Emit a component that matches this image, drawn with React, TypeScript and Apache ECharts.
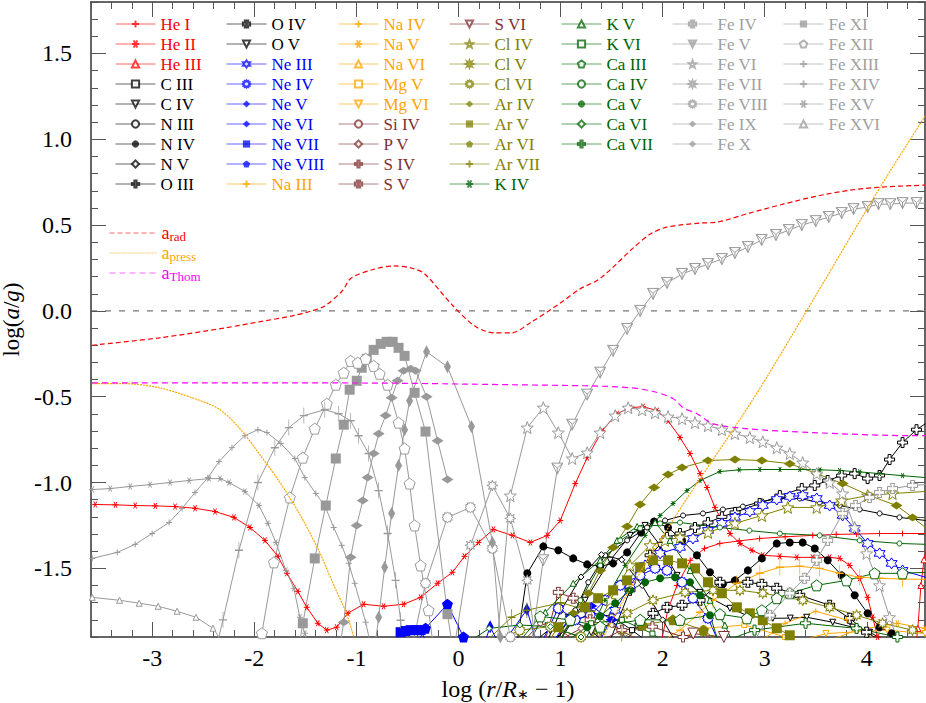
import React, { useEffect, useRef } from "react";
import * as echarts from "echarts";

// ---------- axes ----------
const XMIN = -3.6, XMAX = 4.57, YMIN = -1.9, YMAX = 1.8;
const X_MAJOR = [-3, -2, -1, 0, 1, 2, 3, 4];
const Y_MAJOR = [-1.5, -1.0, -0.5, 0, 0.5, 1.0, 1.5];

// ---------- accelerations ----------
const A_RAD = [[-3.59,-0.2],[-2.93,-0.157],[-2.29,-0.099],[-1.955,-0.064],[-1.63,-0.029],[-1.44,0.0],[-1.31,0.029],[-1.14,0.116],[-1.05,0.192],[-0.82,0.244],[-0.635,0.262],[-0.46,0.25],[-0.33,0.215],[-0.07,0.04],[0.156,-0.087],[0.35,-0.128],[0.52,-0.128],[0.7,-0.07],[1.0,0.047],[1.19,0.128],[1.39,0.19],[1.71,0.366],[1.88,0.448],[2.04,0.488],[2.37,0.512],[2.53,0.517],[2.85,0.57],[3.18,0.622],[3.51,0.669],[3.83,0.703],[4.13,0.721],[4.57,0.733]];
const A_PRESS = [[-3.59,-0.424],[-3.26,-0.424],[-2.93,-0.448],[-2.61,-0.506],[-2.35,-0.57],[-2.15,-0.68],[-1.955,-0.83],[-1.76,-0.99],[-1.56,-1.18],[-1.37,-1.395],[-1.22,-1.6],[-1.12,-1.73],[-1.06,-1.83],[-1.02,-1.92],[-0.8,-2.6],[0.5,-3.2],[1.2,-2.3],[1.42,-1.9],[2.1,-1.22],[2.88,-0.52],[3.41,0.0],[4.125,0.715],[4.57,1.134]];
const A_THOM = [[-3.59,-0.419],[-1.0,-0.42],[0.5,-0.43],[1.55,-0.442],[1.88,-0.465],[2.1,-0.51],[2.2,-0.564],[2.336,-0.599],[2.49,-0.657],[2.82,-0.686],[3.47,-0.709],[4.45,-0.727],[4.57,-0.727]];
const ZERO = [[XMIN, 0], [XMAX, 0]];

// ---------- species ----------
const HE_I = [[1.99,-1.92],[2.05,-1.744],[2.14,-1.6],[2.27,-1.453],[2.41,-1.384],[2.56,-1.355],[2.75,-1.34],[2.95,-1.326],[3.2,-1.316],[3.47,-1.308],[3.7,-1.302],[3.9,-1.3],[4.125,-1.297],[4.35,-1.297],[4.575,-1.297]];
const HE_II = [[-3.558,-1.128],[-3.36,-1.13],[-3.167,-1.134],[-2.97,-1.136],[-2.776,-1.14],[-2.58,-1.15],[-2.385,-1.169],[-2.2,-1.203],[-2.043,-1.262],[-1.896,-1.337],[-1.769,-1.43],[-1.681,-1.529],[-1.574,-1.634],[-1.486,-1.727],[-1.378,-1.82],[-1.29,-1.86],[-1.193,-1.843],[-1.085,-1.762],[-0.929,-1.709],[-0.733,-1.721],[-0.538,-1.709],[-0.371,-1.669],[-0.205,-1.587],[-0.059,-1.523],[0.059,-1.43],[0.196,-1.349],[0.342,-1.273],[0.528,-1.308],[0.704,-1.349],[0.87,-1.308],[0.997,-1.221],[1.144,-1.006],[1.261,-0.855],[1.408,-0.698],[1.554,-0.599],[1.681,-0.564],[1.808,-0.558],[1.945,-0.581],[2.053,-0.64],[2.17,-0.738],[2.268,-0.831],[2.366,-0.948],[2.434,-1.029],[2.512,-1.145],[2.58,-1.221],[2.659,-1.297],[2.757,-1.355],[2.874,-1.395],[2.981,-1.424],[3.148,-1.43],[3.314,-1.436],[3.47,-1.436],[3.636,-1.436],[3.734,-1.442],[3.832,-1.483],[3.93,-1.558],[4.008,-1.669],[4.057,-1.785],[4.106,-1.9],[4.14,-2.03]];
const HE_III = [[4.46,-2.05],[4.5,-1.85],[4.53,-1.6],[4.56,-1.45],[4.6,-1.35]];
const C_III = [[0.9,-1.95],[1.1,-1.82],[1.3,-1.76],[1.5,-1.78],[1.7,-1.86],[1.9,-1.95]];
const C_IV = [[0.997,-1.92],[1.241,-1.686],[1.486,-1.453],[1.681,-1.308],[1.828,-1.25],[1.975,-1.366],[2.141,-1.541],[2.366,-1.64],[2.659,-1.733],[2.85,-1.78],[3.079,-1.791],[3.25,-1.79],[3.411,-1.785],[3.666,-1.814],[3.861,-1.843],[4.027,-1.872],[4.174,-1.92]];
const N_III = [[0.948,-1.92],[1.144,-1.744],[1.271,-1.581],[1.437,-1.424],[1.652,-1.337],[1.847,-1.262],[2.023,-1.221],[2.2,-1.192],[2.395,-1.18],[2.59,-1.157],[2.786,-1.14],[2.972,-1.11],[3.148,-1.093],[3.343,-1.093],[3.538,-1.116],[3.734,-1.134],[3.93,-1.157],[4.125,-1.18],[4.32,-1.203],[4.575,-1.221]];
const N_IV = [[0.577,-1.92],[0.674,-1.529],[0.831,-1.372],[0.978,-1.395],[1.124,-1.442],[1.261,-1.477],[1.388,-1.488],[1.515,-1.471],[1.652,-1.407],[1.789,-1.291],[1.916,-1.227],[2.053,-1.262],[2.19,-1.337],[2.336,-1.424],[2.463,-1.523],[2.59,-1.593],[2.708,-1.57],[2.835,-1.512],[2.972,-1.442],[3.118,-1.355],[3.245,-1.349],[3.372,-1.349],[3.49,-1.384],[3.617,-1.453],[3.754,-1.541],[3.881,-1.657],[4.008,-1.762],[4.125,-1.843],[4.242,-1.878],[4.37,-1.95]];
const N_V = [[0.85,-1.95],[1.0,-1.75],[1.2,-1.55],[1.4,-1.42],[1.6,-1.45],[1.8,-1.6],[2.0,-1.8],[2.15,-1.95]];
const O_III = [[1.486,-1.92],[1.68,-1.628],[1.877,-1.424],[2.043,-1.32],[2.17,-1.297],[2.317,-1.262],[2.444,-1.233],[2.58,-1.2],[2.71,-1.174],[2.95,-1.122],[3.148,-1.076],[3.363,-1.035],[3.49,-1.017],[3.617,-0.988],[3.754,-0.959],[3.881,-0.948],[4.008,-0.977],[4.125,-0.959],[4.223,-0.866],[4.35,-0.767],[4.487,-0.692],[4.575,-0.657]];
const O_IV = [[1.584,-1.95],[1.779,-1.831],[1.906,-1.762],[2.043,-1.727],[2.19,-1.715],[2.366,-1.686],[2.561,-1.581],[2.835,-1.581],[2.972,-1.593],[3.118,-1.616],[3.343,-1.657],[3.636,-1.715],[3.832,-1.791],[3.998,-1.872],[4.125,-1.92]];
const O_V = [[0.7,-1.95],[0.9,-1.85],[1.1,-1.8],[1.3,-1.86],[1.45,-1.95]];
const NE_III = [[1.388,-1.92],[1.535,-1.744],[1.681,-1.599],[1.828,-1.483],[1.975,-1.413],[2.17,-1.378],[2.297,-1.326],[2.444,-1.279],[2.58,-1.238],[2.708,-1.203],[2.854,-1.169],[2.981,-1.134],[3.118,-1.099],[3.245,-1.081],[3.372,-1.076],[3.509,-1.093],[3.636,-1.134],[3.763,-1.192],[3.881,-1.267],[4.008,-1.355],[4.125,-1.413],[4.242,-1.471],[4.35,-1.512],[4.575,-1.552]];
const NE_IV = [[0.8,-1.95],[0.978,-1.733],[1.144,-1.8],[1.29,-1.773],[1.437,-1.686],[1.584,-1.599],[1.779,-1.541],[1.926,-1.5],[2.043,-1.512],[2.19,-1.581],[2.297,-1.674],[2.444,-1.791],[2.542,-1.92]];
const NE_V = [[0.22,-2.0],[0.31,-1.84],[0.41,-1.96],[0.67,-1.74],[0.8,-2.0]];
const NE_VI = [[0.9,-1.95],[1.1,-1.78],[1.3,-1.72],[1.5,-1.8],[1.7,-1.95]];
const NE_VII = [[-0.616,-1.92],[-0.567,-1.872],[-0.52,-1.865],[-0.469,-1.86],[-0.42,-1.86],[-0.371,-1.86],[-0.323,-1.92]];
const NE_VIII = [[-0.42,-1.95],[-0.323,-1.849],[-0.108,-1.709],[0.049,-1.9],[0.117,-1.98]];
const NA_III = [[1.926,-1.95],[2.17,-1.86],[2.366,-1.756],[2.493,-1.686],[2.727,-1.587],[2.952,-1.529],[3.148,-1.494],[3.343,-1.488],[3.538,-1.5],[3.734,-1.529],[3.93,-1.552],[4.125,-1.558],[4.35,-1.562],[4.575,-1.564]];
const NA_IV = [[2.9,-1.95],[3.2,-1.82],[3.5,-1.75],[3.8,-1.8],[4.1,-1.92]];
const NA_V = [[3.5,-1.95],[3.9,-1.86],[4.3,-1.82],[4.57,-1.85]];
const NA_VI = [[4.2,-2.0],[4.57,-1.93]];
const MG_V = [[2.0,-1.95],[2.4,-1.85],[2.8,-1.83],[3.2,-1.9],[3.4,-2.0]];
const MG_VI = [[3.0,-1.98],[3.6,-1.88],[4.2,-1.86],[4.57,-1.88]];
const SI_IV = [[0.6,-1.95],[0.8,-1.82],[1.0,-1.86],[1.2,-1.95]];
const P_V = [[0.9,-1.95],[1.2,-1.85],[1.5,-1.83],[1.8,-1.93]];
const S_IV = [[1.3,-1.95],[1.6,-1.86],[1.9,-1.84],[2.2,-1.9],[2.4,-1.98]];
const S_V = [[0.85,-1.92],[0.978,-1.64],[1.124,-1.674],[1.29,-1.8],[1.388,-1.92]];
const S_VI = [[2.0,-1.97],[2.3,-1.88],[2.6,-1.9],[2.8,-1.98]];
const CL_IV = [[1.29,-1.92],[1.486,-1.686],[1.681,-1.483],[1.877,-1.366],[2.023,-1.337],[2.17,-1.32],[2.444,-1.291],[2.708,-1.238],[2.972,-1.192],[3.226,-1.145],[3.509,-1.145],[3.754,-1.105],[4.008,-1.076],[4.252,-1.064],[4.575,-1.052]];
const CL_V = [[1.193,-1.95],[1.388,-1.86],[1.652,-1.762],[1.906,-1.686],[2.219,-1.64],[2.493,-1.628],[2.757,-1.628],[2.981,-1.645],[3.372,-1.686],[3.636,-1.727],[3.9,-1.773],[4.154,-1.82],[4.448,-1.86],[4.575,-1.878]];
const CL_VI = [[0.3,-1.95],[0.6,-1.86],[0.9,-1.84],[1.2,-1.9],[1.4,-1.97]];
const AR_IV = [[0.997,-1.92],[1.124,-1.762],[1.271,-1.645],[1.388,-1.512],[1.515,-1.378],[1.652,-1.256],[1.779,-1.128],[1.916,-1.029],[2.053,-0.953],[2.19,-0.913],[2.444,-0.872],[2.708,-0.866],[2.972,-0.872],[3.245,-0.89],[3.509,-0.948],[3.763,-1.006],[4.027,-1.076],[4.291,-1.134],[4.448,-1.203],[4.575,-1.262]];
const AR_V = [[0.85,-1.95],[0.978,-1.843],[1.241,-1.727],[1.368,-1.674],[1.515,-1.628],[1.652,-1.57],[1.779,-1.494],[1.906,-1.453],[2.053,-1.453],[2.19,-1.471],[2.317,-1.5],[2.444,-1.581],[2.58,-1.645],[2.727,-1.727],[2.854,-1.762],[2.981,-1.802],[3.118,-1.849],[3.245,-1.89],[3.343,-1.95]];
const AR_VI = [[1.5,-1.95],[1.8,-1.83],[2.1,-1.8],[2.4,-1.86],[2.6,-1.95]];
const AR_VII = [[0.28,-1.92],[0.52,-1.785],[0.67,-1.744],[1.0,-1.7],[1.3,-1.75],[1.6,-1.88],[1.7,-2.0]];
const K_IV = [[1.24,-1.92],[1.437,-1.686],[1.632,-1.483],[1.828,-1.308],[1.975,-1.192],[2.102,-1.122],[2.239,-1.047],[2.366,-0.988],[2.561,-0.936],[2.75,-0.926],[2.952,-0.924],[3.15,-0.924],[3.343,-0.924],[3.54,-0.926],[3.734,-0.93],[3.93,-0.938],[4.125,-0.948],[4.35,-0.96],[4.575,-0.971]];
const K_V = [[0.704,-1.92],[0.85,-1.756],[1.124,-1.587],[1.388,-1.453],[1.554,-1.337],[1.75,-1.256],[1.926,-1.233],[2.072,-1.337],[2.268,-1.512],[2.463,-1.686],[2.61,-1.831],[2.678,-1.92]];
const K_VI = [[1.0,-1.95],[1.3,-1.82],[1.6,-1.8],[1.9,-1.88],[2.1,-1.97]];
const CA_III = [[0.606,-1.92],[0.8,-1.78],[1.095,-1.8],[1.388,-1.84],[1.78,-1.8],[2.17,-1.8],[2.561,-1.767],[2.825,-1.791],[2.972,-1.744],[3.118,-1.674],[3.245,-1.645],[3.509,-1.599],[3.802,-1.57],[4.076,-1.529],[4.35,-1.529],[4.575,-1.523]];
const CA_IV = [[0.997,-1.92],[1.193,-1.686],[1.388,-1.483],[1.584,-1.337],[1.779,-1.267],[1.975,-1.238],[2.17,-1.233],[2.561,-1.262],[2.85,-1.28],[3.148,-1.297],[3.538,-1.308],[3.93,-1.337],[4.32,-1.355],[4.575,-1.36]];
const CA_V = [[1.144,-1.95],[1.261,-1.843],[1.388,-1.779],[1.535,-1.703],[1.681,-1.628],[1.828,-1.581],[1.975,-1.558],[2.121,-1.552],[2.268,-1.581],[2.366,-1.657],[2.463,-1.773],[2.542,-1.92]];
const CA_VI = [[0.1,-1.93],[0.3,-1.85],[0.6,-1.83],[0.9,-1.84],[1.2,-1.9],[1.4,-1.97]];
const CA_VII = [[2.4,-1.97],[2.9,-1.86],[3.4,-1.82],[3.9,-1.85],[4.3,-1.9],[4.57,-1.93]];
const FE_IV = [[2.9,-1.92],[3.05,-1.773],[3.245,-1.645],[3.39,-1.558],[3.509,-1.453],[3.617,-1.337],[3.763,-1.18],[3.89,-1.134],[4.027,-1.087],[4.125,-1.058],[4.252,-1.035],[4.448,-1.017],[4.575,-1.012]];
const FE_V = [[0.7,-2.0],[0.83,-1.453],[0.968,-0.919],[1.114,-0.663],[1.26,-0.488],[1.388,-0.36],[1.515,-0.233],[1.652,-0.105],[1.78,0.0],[1.906,0.099],[2.043,0.163],[2.19,0.215],[2.317,0.244],[2.444,0.273],[2.58,0.302],[2.708,0.337],[2.835,0.372],[2.97,0.413],[3.11,0.442],[3.236,0.471],[3.363,0.5],[3.5,0.523],[3.627,0.547],[3.754,0.57],[3.87,0.593],[4.008,0.605],[4.115,0.622],[4.23,0.622],[4.35,0.628],[4.487,0.628],[4.575,0.628]];
const FE_VI = [[0.381,-1.92],[0.508,-1.076],[0.674,-0.68],[0.831,-0.564],[0.978,-0.709],[1.114,-0.86],[1.261,-0.826],[1.388,-0.709],[1.535,-0.61],[1.662,-0.564],[1.799,-0.576],[1.926,-0.593],[2.053,-0.616],[2.19,-0.628],[2.317,-0.651],[2.444,-0.669],[2.58,-0.692],[2.708,-0.715],[2.854,-0.738],[2.981,-0.762],[3.118,-0.797],[3.245,-0.831],[3.372,-0.884],[3.509,-0.948],[3.636,-1.0],[3.763,-1.064],[3.881,-1.262],[3.998,-1.413],[4.125,-1.599],[4.223,-1.785],[4.32,-1.95]];
const FE_VII = [[-0.03,-1.92],[0.117,-1.366],[0.332,-1.017],[0.508,-1.209],[0.674,-1.57],[0.753,-1.92]];
const FE_VIII = [[-0.47,-2.0],[-0.323,-1.587],[-0.108,-1.203],[0.117,-1.145],[0.332,-1.384],[0.508,-1.9]];
const FE_IX = [[-0.811,-1.92],[-0.782,-1.785],[-0.723,-1.494],[-0.655,-1.18],[-0.587,-0.901],[-0.528,-0.692],[-0.479,-0.523],[-0.313,-0.238],[-0.108,-0.326],[0.127,-0.674],[0.332,-1.349],[0.41,-1.9]];
const FE_X = [[-1.153,-1.92],[-1.124,-1.814],[-1.056,-1.436],[-0.997,-1.25],[-0.938,-1.105],[-0.89,-0.971],[-0.831,-0.831],[-0.782,-0.715],[-0.714,-0.61],[-0.655,-0.506],[-0.596,-0.407],[-0.538,-0.349],[-0.469,-0.337],[-0.42,-0.349],[-0.313,-0.5],[-0.205,-0.756],[-0.108,-0.983]];
const FE_XI = [[-1.554,-1.92],[-1.525,-1.82],[-1.408,-1.442],[-1.3,-1.134],[-1.202,-0.86],[-1.124,-0.663],[-1.066,-0.459],[-0.997,-0.407],[-0.948,-0.331],[-0.899,-0.279],[-0.831,-0.227],[-0.762,-0.192],[-0.704,-0.18],[-0.645,-0.18],[-0.587,-0.215],[-0.528,-0.262],[-0.43,-0.477],[-0.323,-0.703],[-0.108,-1.767],[-0.06,-1.95]];
const FE_XII = [[-1.955,-1.95],[-1.926,-1.878],[-1.808,-1.465],[-1.652,-1.087],[-1.525,-0.855],[-1.408,-0.686],[-1.29,-0.541],[-1.202,-0.43],[-1.124,-0.36],[-1.056,-0.291],[-0.987,-0.302],[-0.909,-0.279],[-0.831,-0.32],[-0.772,-0.366],[-0.694,-0.43],[-0.587,-0.651],[-0.528,-0.802],[-0.479,-1.006],[-0.43,-1.25],[-0.371,-1.483],[-0.293,-1.744],[-0.254,-1.92]];
const FE_XIII = [[-2.356,-1.92],[-2.307,-1.8],[-2.151,-1.395],[-1.965,-1.0],[-1.799,-0.797],[-1.662,-0.68],[-1.515,-0.61],[-1.31,-0.576],[-1.173,-0.599],[-1.056,-0.64],[-0.978,-0.727],[-0.88,-0.831],[-0.782,-1.047],[-0.694,-1.297],[-0.616,-1.57],[-0.567,-1.802],[-0.547,-1.95]];
const FE_XIV = [[-3.588,-1.442],[-3.343,-1.407],[-3.167,-1.36],[-3.001,-1.297],[-2.835,-1.233],[-2.708,-1.151],[-2.581,-1.058],[-2.454,-0.971],[-2.346,-0.878],[-2.219,-0.797],[-2.092,-0.727],[-1.965,-0.692],[-1.877,-0.709],[-1.74,-0.773],[-1.603,-0.86],[-1.505,-0.971],[-1.398,-1.064],[-1.31,-1.134],[-1.222,-1.262],[-1.144,-1.366],[-1.075,-1.471],[-1.017,-1.587],[-0.909,-1.814],[-0.86,-1.95]];
const FE_XV = [[-3.588,-1.041],[-3.412,-1.035],[-3.216,-1.023],[-3.021,-1.012],[-2.825,-1.0],[-2.639,-0.988],[-2.444,-0.977],[-2.336,-0.977],[-2.248,-1.0],[-2.092,-1.052],[-1.955,-1.134],[-1.867,-1.238],[-1.789,-1.349],[-1.691,-1.512],[-1.613,-1.616],[-1.554,-1.785],[-1.505,-1.878],[-1.48,-2.0]];
const FE_XVI = [[-3.588,-1.669],[-3.32,-1.686],[-3.128,-1.703],[-2.942,-1.721],[-2.757,-1.75],[-2.571,-1.785],[-2.405,-1.849],[-2.326,-1.919]];

// ---------- colours ----------
const RED = "#ff0000", BLACK = "#000000", BLUE = "#0000ff", ORANGE = "#ffa500";
const BROWN = "#803030", OLIVE = "#808000", GREEN = "#006400", GRAY = "#999999", GRAYTXT = "#a0a0a0";

// ---------- marker shapes ----------
function star(n: number, ro: number, ri: number, rot = -90) {
  const p: string[] = [];
  for (let k = 0; k < 2 * n; k++) {
    const r = k % 2 === 0 ? ro : ri;
    const a = ((rot + (k * 180) / n) * Math.PI) / 180;
    p.push((10 + r * Math.cos(a)).toFixed(2) + "," + (10 + r * Math.sin(a)).toFixed(2));
  }
  return "path://M" + p.join("L") + "Z";
}
const PLUS = "path://M0,5L10,5M5,0L5,10";
const ASTER = "path://M0,5L10,5M2.5,0.7L7.5,9.3M2.5,9.3L7.5,0.7";
const TICK = "path://M5,0L5,20M1,10L9,10";
const STAR5 = star(5, 10, 4.2);
const STAR6 = star(6, 10, 5.8);
const STAR8 = star(8, 10, 5);
const GEAR = star(12, 10, 7.5);
const PENTA = star(5, 10, 8.09);
const CROSS = "path://M3.5,0H6.5V3.5H10V6.5H6.5V10H3.5V6.5H0V3.5H3.5Z";
const QUATRE = "path://M3,0.5H7L6,3.5L9.5,3V7L6,6.5L7,9.5H3L4,6.5L0.5,7V3L4,3.5Z";
const DTRI = "path://M0,0L10,0L5,9Z";
const FEV = "path://M0,0L10,0L5,9ZM5,9L5,4M0,0L5,4M10,0L5,4";

type Sp = [string, number[][], string, string, any, string];
// name, data, colour, symbol, size, fill (o = open, s = solid, l = stroke only)
const SPECIES: Sp[] = [
  ["He I", HE_I, RED, PLUS, 6, "l"],
  ["He II", HE_II, RED, ASTER, 6, "l"],
  ["He III", HE_III, RED, "triangle", 6, "o"],
  ["C III", C_III, BLACK, "rect", 5, "o"],
  ["C IV", C_IV, BLACK, DTRI, 6, "o"],
  ["N III", N_III, BLACK, "circle", 5, "o"],
  ["N IV", N_IV, BLACK, "circle", 8, "s"],
  ["N V", N_V, BLACK, "diamond", 6, "o"],
  ["O III", O_III, BLACK, CROSS, 10, "o"],
  ["O IV", O_IV, BLACK, QUATRE, 10, "o"],
  ["O V", O_V, BLACK, DTRI, 11, "o"],
  ["Ne III", NE_III, BLUE, STAR6, 11, "o"],
  ["Ne IV", NE_IV, BLUE, GEAR, 11, "o"],
  ["Ne V", NE_V, BLUE, "diamond", [7, 13], "s"],
  ["Ne VI", NE_VI, BLUE, "diamond", [12, 8], "s"],
  ["Ne VII", NE_VII, BLUE, "rect", 10, "s"],
  ["Ne VIII", NE_VIII, BLUE, PENTA, 11, "s"],
  ["Na III", NA_III, ORANGE, TICK, [8, 16], "l"],
  ["Na IV", NA_IV, ORANGE, PLUS, 6, "l"],
  ["Na V", NA_V, ORANGE, ASTER, 6, "l"],
  ["Na VI", NA_VI, ORANGE, "triangle", 6, "o"],
  ["Mg V", MG_V, ORANGE, "rect", 5, "o"],
  ["Mg VI", MG_VI, ORANGE, DTRI, 6, "o"],
  ["Si IV", SI_IV, BROWN, "circle", 5, "o"],
  ["P V", P_V, BROWN, "diamond", 6, "o"],
  ["S IV", S_IV, BROWN, CROSS, 10, "o"],
  ["S V", S_V, BROWN, QUATRE, 10, "o"],
  ["S VI", S_VI, BROWN, DTRI, 11, "o"],
  ["Cl IV", CL_IV, OLIVE, STAR5, 12, "o"],
  ["Cl V", CL_V, OLIVE, STAR8, 11, "o"],
  ["Cl VI", CL_VI, OLIVE, GEAR, 11, "o"],
  ["Ar IV", AR_IV, OLIVE, "diamond", [12, 8], "s"],
  ["Ar V", AR_V, OLIVE, "rect", 10, "s"],
  ["Ar VI", AR_VI, OLIVE, PENTA, 11, "s"],
  ["Ar VII", AR_VII, OLIVE, TICK, [8, 16], "l"],
  ["K IV", K_IV, GREEN, ASTER, 5, "l"],
  ["K V", K_V, GREEN, "triangle", 6, "o"],
  ["K VI", K_VI, GREEN, "rect", 5, "o"],
  ["Ca III", CA_III, GREEN, PENTA, 11, "o"],
  ["Ca IV", CA_IV, GREEN, "circle", 5, "o"],
  ["Ca V", CA_V, GREEN, "circle", 8, "s"],
  ["Ca VI", CA_VI, GREEN, "diamond", 6, "o"],
  ["Ca VII", CA_VII, GREEN, CROSS, 10, "o"],
  ["Fe IV", FE_IV, GRAY, QUATRE, 10, "o"],
  ["Fe V", FE_V, GRAY, FEV, 11, "o"],
  ["Fe VI", FE_VI, GRAY, STAR5, 12, "o"],
  ["Fe VII", FE_VII, GRAY, STAR8, 11, "o"],
  ["Fe VIII", FE_VIII, GRAY, GEAR, 11, "o"],
  ["Fe IX", FE_IX, GRAY, "diamond", [7, 13], "s"],
  ["Fe X", FE_X, GRAY, "diamond", [12, 8], "s"],
  ["Fe XI", FE_XI, GRAY, "rect", 10, "s"],
  ["Fe XII", FE_XII, GRAY, PENTA, 11, "o"],
  ["Fe XIII", FE_XIII, GRAY, TICK, [8, 16], "l"],
  ["Fe XIV", FE_XIV, GRAY, PLUS, 6, "l"],
  ["Fe XV", FE_XV, GRAY, ASTER, 6, "l"],
  ["Fe XVI", FE_XVI, GRAY, "triangle", 6, "o"],
];
const LEGEND_COLUMNS = [
  ["He I", "He II", "He III", "C III", "C IV", "N III", "N IV", "N V", "O III"],
  ["O IV", "O V", "Ne III", "Ne IV", "Ne V", "Ne VI", "Ne VII", "Ne VIII", "Na III"],
  ["Na IV", "Na V", "Na VI", "Mg V", "Mg VI", "Si IV", "P V", "S IV", "S V"],
  ["S VI", "Cl IV", "Cl V", "Cl VI", "Ar IV", "Ar V", "Ar VI", "Ar VII", "K IV"],
  ["K V", "K VI", "Ca III", "Ca IV", "Ca V", "Ca VI", "Ca VII"],
  ["Fe IV", "Fe V", "Fe VI", "Fe VII", "Fe VIII", "Fe IX", "Fe X"],
  ["Fe XI", "Fe XII", "Fe XIII", "Fe XIV", "Fe XV", "Fe XVI"],
];
const LEGEND_TEXT_X = [160, 271, 383, 494, 606, 717, 828];

const FONT = "Liberation Serif";

function ticks(a: number, b: number, step: number) {
  const out: number[] = [];
  for (let v = a; v <= b + 1e-9; v += step) out.push(Math.round(v * 100) / 100);
  return out;
}

export default function App() {
  const ref = useRef<HTMLDivElement>(null);
  useEffect(() => {
    if (!ref.current) return;
    const chart = echarts.init(ref.current, undefined, { renderer: "svg" });
    const colorOf: Record<string, string> = {};
    SPECIES.forEach((s) => (colorOf[s[0]] = s[2] === GRAY ? GRAYTXT : s[2]));

    const xMinor = ticks(-3.6, 4.4, 0.2);
    const yMinor = ticks(-1.9, 1.8, 0.1);
    const tickStyle = { color: "#555", width: 1 };
    const tl = { fontFamily: FONT, fontSize: 24, color: "#000" };
    const mkX = (pos: string, vals: number[], len: number, labels: boolean, line: boolean): any => ({
      type: "value", min: XMIN, max: XMAX, position: pos, splitLine: { show: false },
      axisLine: { show: line, onZero: false, lineStyle: { color: "#333", width: 1.5 } },
      axisTick: { show: true, inside: true, length: len, customValues: vals, lineStyle: tickStyle },
      axisLabel: labels
        ? { show: true, customValues: X_MAJOR, margin: 9, fontFamily: FONT, fontSize: 24, color: "#000",
            formatter: (v: number) => "{t|" + String(Math.round(v)) + "}", rich: { t: tl } }
        : { show: false },
    });
    const mkY = (pos: string, vals: number[], len: number, labels: boolean, line: boolean): any => ({
      type: "value", min: YMIN, max: YMAX, position: pos, splitLine: { show: false },
      axisLine: { show: line, onZero: false, lineStyle: { color: "#333", width: 1.5 } },
      axisTick: { show: true, inside: true, length: len, customValues: vals, lineStyle: tickStyle },
      axisLabel: labels
        ? { show: true, customValues: Y_MAJOR, margin: 19, fontFamily: FONT, fontSize: 24, color: "#000",
            formatter: (v: number) => "{t|" + v.toFixed(1) + "}", rich: { t: tl } }
        : { show: false },
    });

    const xAxes = [
      mkX("bottom", X_MAJOR, 15, true, true),
      mkX("bottom", xMinor, 7, false, false),
      mkX("top", X_MAJOR, 15, false, true),
      mkX("top", xMinor, 7, false, false),
    ];
    xAxes[0].name = "{t|log (}{i|r}{t|/}{i|R}{s|∗}{t| − 1)}";
    xAxes[0].nameLocation = "middle";
    xAxes[0].nameGap = 40;
    xAxes[0].nameTextStyle = {
      fontFamily: FONT,
      rich: {
        t: { fontFamily: FONT, fontSize: 24, color: "#000" },
        i: { fontFamily: FONT, fontSize: 24, fontStyle: "italic", color: "#000" },
        s: { fontFamily: FONT, fontSize: 14, color: "#000", verticalAlign: "bottom", lineHeight: 12 },
      },
    };
    const yAxes = [
      mkY("left", Y_MAJOR, 15, true, true),
      mkY("left", yMinor, 7, false, false),
      mkY("right", Y_MAJOR, 15, false, true),
      mkY("right", yMinor, 7, false, false),
    ];
    yAxes[0].name = "{t|log(}{i|a}{t|/}{i|g}{t|)}";
    yAxes[0].nameLocation = "middle";
    yAxes[0].nameGap = 67;
    yAxes[0].nameRotate = 90;
    yAxes[0].nameTextStyle = {
      fontFamily: FONT,
      rich: {
        t: { fontFamily: FONT, fontSize: 23, color: "#000" },
        i: { fontFamily: FONT, fontSize: 23, fontStyle: "italic", color: "#000" },
      },
    };

    const series: any[] = SPECIES.map(([name, data, c, sym, size, fill]) => ({
      type: "line", name, data, symbol: sym, symbolSize: size, showSymbol: true, showAllSymbol: true,
      lineStyle: { color: c, width: 1 },
      itemStyle: { color: fill === "o" ? "#ffffff" : c, borderColor: c, borderWidth: fill === "s" ? 0 : 1 },
      clip: true, silent: true, emphasis: { disabled: true }, z: 3,
    }));
    series.push(
      { type: "line", name: "zero", data: ZERO, symbol: "none", lineStyle: { color: "#555", width: 1, type: [6, 8] }, silent: true, z: 2 },
      { type: "line", name: "a_rad", data: A_RAD, symbol: "none", smooth: 0.3, lineStyle: { color: RED, width: 1.2, type: [5, 3] }, itemStyle: { color: RED }, silent: true, z: 4 },
      { type: "line", name: "a_press", data: A_PRESS, symbol: "none", smooth: 0.3, lineStyle: { color: ORANGE, width: 1.2, type: [2, 1] }, itemStyle: { color: ORANGE }, silent: true, z: 4 },
      { type: "line", name: "a_Thom", data: A_THOM, symbol: "none", smooth: 0.3, lineStyle: { color: "#ff00ff", width: 1.2, type: [6, 4] }, itemStyle: { color: "#ff00ff" }, silent: true, z: 4 }
    );

    const legends: any[] = LEGEND_COLUMNS.map((col, i) => ({
      orient: "vertical", left: LEGEND_TEXT_X[i] - 45, top: 14, padding: 0, itemGap: 0,
      itemWidth: 40, itemHeight: 9, selectedMode: false,
      lineStyle: { width: 1, opacity: 0.6 },
      itemStyle: { opacity: 0.75 },
      textStyle: { fontFamily: FONT, fontSize: 17, lineHeight: 20 },
      data: col.map((n) => ({ name: n, textStyle: { color: colorOf[n], fontFamily: FONT } })),
    }));
    legends.push({
      orient: "vertical", left: 109, top: 223, padding: 0, itemGap: 0, itemWidth: 47, itemHeight: 10, selectedMode: false,
      lineStyle: { width: 1, opacity: 0.6 },
      data: ["a_rad", "a_press", "a_Thom"].map((n) => ({ name: n, itemStyle: { opacity: 0 } })),
      formatter: (n: string) =>
        n === "a_rad" ? "{ar|a}{sr|rad}" : n === "a_press" ? "{ap|a}{sp|press}" : "{at|a}{st|Thom}",
      textStyle: {
        fontFamily: FONT, fontSize: 17, lineHeight: 20,
        rich: {
          ar: { color: RED, fontFamily: FONT, fontSize: 18, lineHeight: 20 },
          sr: { color: RED, fontFamily: FONT, fontSize: 13, lineHeight: 8, verticalAlign: "bottom" },
          ap: { color: ORANGE, fontFamily: FONT, fontSize: 18, lineHeight: 20 },
          sp: { color: ORANGE, fontFamily: FONT, fontSize: 13, lineHeight: 8, verticalAlign: "bottom" },
          at: { color: "#ff00ff", fontFamily: FONT, fontSize: 18, lineHeight: 20 },
          st: { color: "#ff00ff", fontFamily: FONT, fontSize: 13, lineHeight: 8, verticalAlign: "bottom" },
        },
      },
    });

    chart.setOption({
      animation: false,
      backgroundColor: "#ffffff",
      textStyle: { fontFamily: FONT },
      grid: { left: 91, right: 1, top: 2, bottom: 66, containLabel: false, outerBoundsMode: "none" },
      xAxis: xAxes,
      yAxis: yAxes,
      legend: legends,
      series,
    });
    return () => chart.dispose();
  }, []);
  return <div ref={ref} style={{ position: "fixed", left: 0, top: 0, width: 926, height: 703 }} />;
}
